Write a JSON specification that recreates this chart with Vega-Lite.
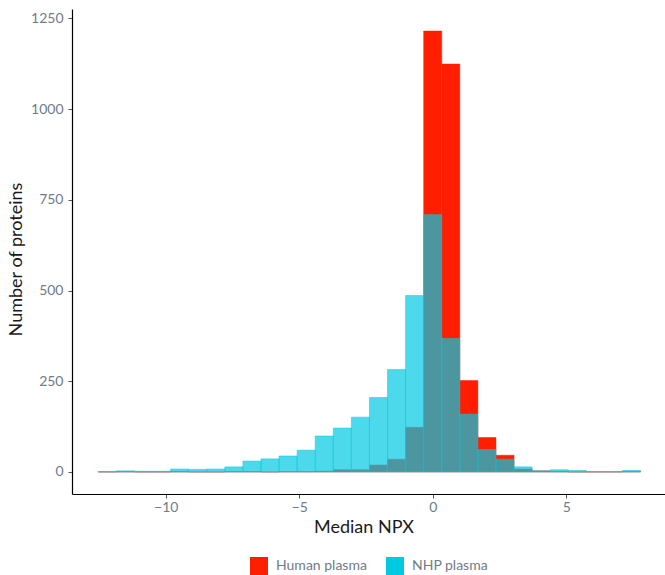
{
  "$schema": "https://vega.github.io/schema/vega-lite/v6.json",
  "width": 593,
  "height": 485,
  "autosize": {"type": "none"},
  "padding": {"left": 72, "top": 9, "right": 0, "bottom": 81},
  "config": {
    "view": {"stroke": null},
    "font": "Lato",
    "axis": {
      "grid": false,
      "domainColor": "#000000",
      "domainWidth": 1.2,
      "tickColor": "#555555",
      "tickSize": 4,
      "labelFontSize": 14,
      "labelColor": "#707B87",
      "titleFontSize": 18,
      "titleFontWeight": "normal",
      "titleColor": "#1a1a1a"
    }
  },
  "data": {
    "values": [
      {"group": "Human plasma", "start": -12.5245, "end": -11.8475, "count": 0},
      {"group": "Human plasma", "start": -11.8475, "end": -11.1705, "count": 1},
      {"group": "Human plasma", "start": -11.1705, "end": -10.4935, "count": 0},
      {"group": "Human plasma", "start": -10.4935, "end": -9.8165, "count": 0},
      {"group": "Human plasma", "start": -9.8165, "end": -9.1395, "count": 1},
      {"group": "Human plasma", "start": -9.1395, "end": -8.4625, "count": 0},
      {"group": "Human plasma", "start": -8.4625, "end": -7.7855, "count": 0},
      {"group": "Human plasma", "start": -7.7855, "end": -7.1085, "count": 1},
      {"group": "Human plasma", "start": -7.1085, "end": -6.4315, "count": 1},
      {"group": "Human plasma", "start": -6.4315, "end": -5.7545, "count": 0},
      {"group": "Human plasma", "start": -5.7545, "end": -5.0775, "count": 1},
      {"group": "Human plasma", "start": -5.0775, "end": -4.4005, "count": 1},
      {"group": "Human plasma", "start": -4.4005, "end": -3.7235, "count": 2},
      {"group": "Human plasma", "start": -3.7235, "end": -3.0465, "count": 6},
      {"group": "Human plasma", "start": -3.0465, "end": -2.3695, "count": 6},
      {"group": "Human plasma", "start": -2.3695, "end": -1.6925, "count": 19},
      {"group": "Human plasma", "start": -1.6925, "end": -1.0155, "count": 35},
      {"group": "Human plasma", "start": -1.0155, "end": -0.3385, "count": 123},
      {"group": "Human plasma", "start": -0.3385, "end": 0.3385, "count": 1215},
      {"group": "Human plasma", "start": 0.3385, "end": 1.0155, "count": 1124},
      {"group": "Human plasma", "start": 1.0155, "end": 1.6925, "count": 252},
      {"group": "Human plasma", "start": 1.6925, "end": 2.3695, "count": 95},
      {"group": "Human plasma", "start": 2.3695, "end": 3.0465, "count": 46},
      {"group": "Human plasma", "start": 3.0465, "end": 3.7235, "count": 8},
      {"group": "Human plasma", "start": 3.7235, "end": 4.4005, "count": 3},
      {"group": "Human plasma", "start": 4.4005, "end": 5.0775, "count": 1},
      {"group": "Human plasma", "start": 5.0775, "end": 5.7545, "count": 0},
      {"group": "Human plasma", "start": 5.7545, "end": 6.4315, "count": 0},
      {"group": "Human plasma", "start": 6.4315, "end": 7.1085, "count": 0},
      {"group": "Human plasma", "start": 7.1085, "end": 7.7855, "count": 1},
      {"group": "NHP plasma", "start": -12.5245, "end": -11.8475, "count": 1},
      {"group": "NHP plasma", "start": -11.8475, "end": -11.1705, "count": 3},
      {"group": "NHP plasma", "start": -11.1705, "end": -10.4935, "count": 2},
      {"group": "NHP plasma", "start": -10.4935, "end": -9.8165, "count": 2},
      {"group": "NHP plasma", "start": -9.8165, "end": -9.1395, "count": 8},
      {"group": "NHP plasma", "start": -9.1395, "end": -8.4625, "count": 7},
      {"group": "NHP plasma", "start": -8.4625, "end": -7.7855, "count": 8},
      {"group": "NHP plasma", "start": -7.7855, "end": -7.1085, "count": 14},
      {"group": "NHP plasma", "start": -7.1085, "end": -6.4315, "count": 30},
      {"group": "NHP plasma", "start": -6.4315, "end": -5.7545, "count": 36},
      {"group": "NHP plasma", "start": -5.7545, "end": -5.0775, "count": 44},
      {"group": "NHP plasma", "start": -5.0775, "end": -4.4005, "count": 60},
      {"group": "NHP plasma", "start": -4.4005, "end": -3.7235, "count": 99},
      {"group": "NHP plasma", "start": -3.7235, "end": -3.0465, "count": 121},
      {"group": "NHP plasma", "start": -3.0465, "end": -2.3695, "count": 151},
      {"group": "NHP plasma", "start": -2.3695, "end": -1.6925, "count": 205},
      {"group": "NHP plasma", "start": -1.6925, "end": -1.0155, "count": 282},
      {"group": "NHP plasma", "start": -1.0155, "end": -0.3385, "count": 486},
      {"group": "NHP plasma", "start": -0.3385, "end": 0.3385, "count": 709},
      {"group": "NHP plasma", "start": 0.3385, "end": 1.0155, "count": 368},
      {"group": "NHP plasma", "start": 1.0155, "end": 1.6925, "count": 159},
      {"group": "NHP plasma", "start": 1.6925, "end": 2.3695, "count": 62},
      {"group": "NHP plasma", "start": 2.3695, "end": 3.0465, "count": 35},
      {"group": "NHP plasma", "start": 3.0465, "end": 3.7235, "count": 14},
      {"group": "NHP plasma", "start": 3.7235, "end": 4.4005, "count": 3},
      {"group": "NHP plasma", "start": 4.4005, "end": 5.0775, "count": 6},
      {"group": "NHP plasma", "start": 5.0775, "end": 5.7545, "count": 4},
      {"group": "NHP plasma", "start": 5.7545, "end": 6.4315, "count": 1},
      {"group": "NHP plasma", "start": 6.4315, "end": 7.1085, "count": 1},
      {"group": "NHP plasma", "start": 7.1085, "end": 7.7855, "count": 4}
    ]
  },
  "encoding": {
    "x": {
      "field": "start",
      "type": "quantitative",
      "scale": {"domain": [-13.51, 8.70], "nice": false, "zero": false},
      "axis": {"values": [-10, -5, 0, 5], "title": "Median NPX", "labelPadding": 2, "titlePadding": 4, "titleX": 291.5}
    },
    "x2": {"field": "end"},
    "y": {
      "field": "count",
      "type": "quantitative",
      "scale": {"domain": [-60.75, 1275.75], "nice": false, "zero": false},
      "axis": {"values": [0, 250, 500, 750, 1000, 1250], "format": "d", "title": "Number of proteins", "labelPadding": 5, "titlePadding": 5, "titleY": 250}
    },
    "y2": {"datum": 0},
    "color": {
      "field": "group",
      "type": "nominal",
      "scale": {"domain": ["Human plasma", "NHP plasma"], "range": ["#FF1E00", "#00C9E2"]},
      "legend": {
        "title": null,
        "orient": "none",
        "legendX": 178,
        "legendY": 548,
        "direction": "horizontal",
        "symbolType": "square",
        "symbolSize": 324,
        "symbolStrokeWidth": 0,
        "symbolOpacity": 1,
        "labelFontSize": 14,
        "labelColor": "#707B87",
        "labelOffset": 8,
        "columnPadding": 19
      }
    }
  },
  "layer": [
    {
      "transform": [{"filter": "datum.group === 'Human plasma'"}],
      "mark": {"type": "bar", "stroke": "#FF1E00", "strokeWidth": 0.5}
    },
    {
      "transform": [{"filter": "datum.group === 'NHP plasma'"}],
      "mark": {"type": "bar", "fillOpacity": 0.7, "stroke": "#00C9E2", "strokeWidth": 0.5}
    }
  ]
}
